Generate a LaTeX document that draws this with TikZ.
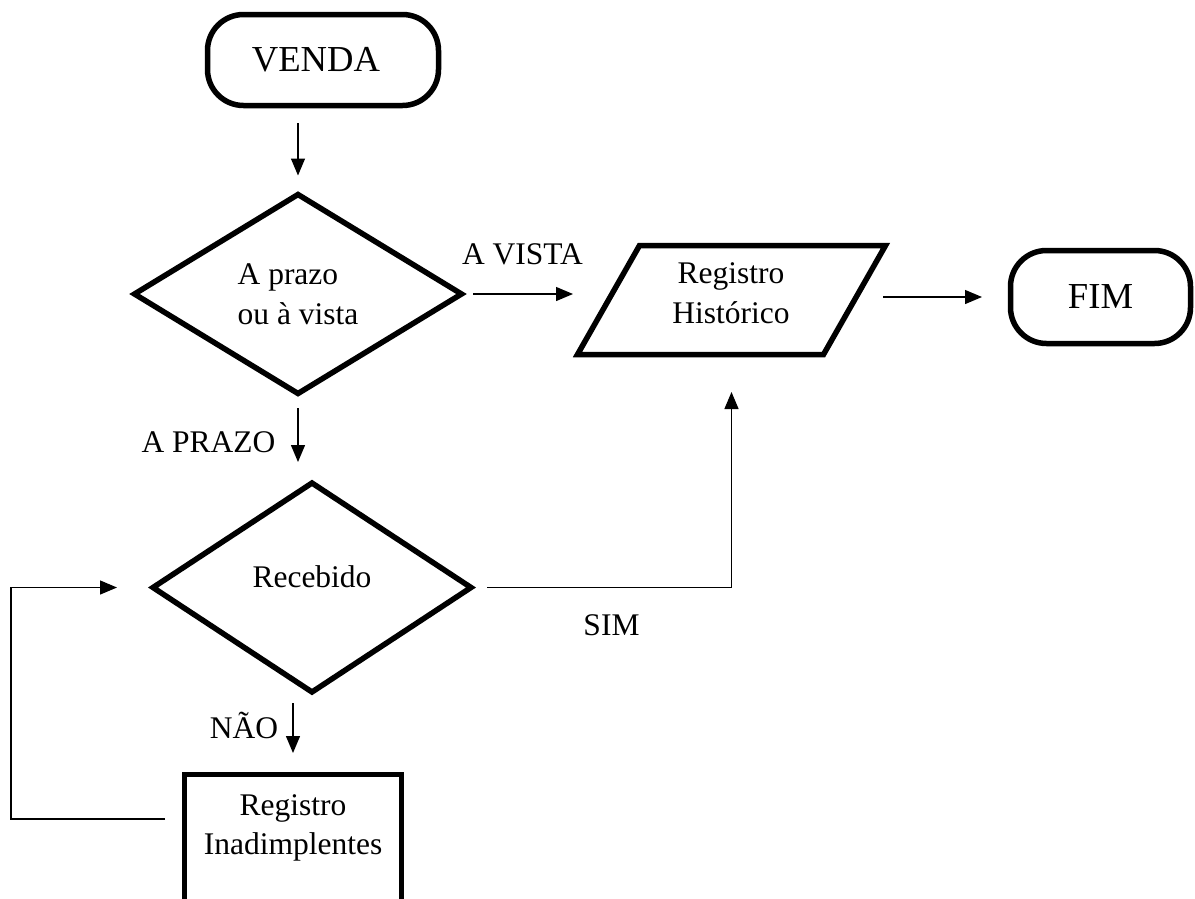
\documentclass[tikz,border=0pt]{standalone}
\usepackage{fontspec}
\setmainfont{Liberation Serif}
\usetikzlibrary{shapes.geometric,arrows.meta,calc}
\tikzset{
  outline/.style={draw=black, line width=5.5pt, line join=miter},
  terminal/.style={outline, rectangle, rounded corners=36pt, inner sep=0pt, outer sep=0pt,
    font=\fontsize{36.6}{44}\selectfont},
  decision/.style={outline, diamond, aspect=1, inner sep=0pt, outer sep=0pt, align=left},
  process/.style={outline, rectangle, inner xsep=10pt, inner ysep=20pt, outer sep=0pt, align=center},
  body/.style={rectangle, inner sep=0pt, outer sep=0pt},
  caption/.style={inner sep=0pt, anchor=base},
  flow/.style={line width=1.3pt, -{Triangle[length=17pt, width=14pt]}},
}
\begin{document}
\begin{tikzpicture}[x=1pt, y=-1pt, font=\fontsize{31.5}{39.5}\selectfont]
\useasboundingbox (0,0) rectangle (1195,898);
\fill[white] (0,0) rectangle (1195,898);
\clip (0,0) rectangle (1195,898);

% start and end terminals
\node[terminal, minimum width=231pt, minimum height=91pt] (venda) at (323,60) {VENDA\hspace*{14pt}};
\node[terminal, minimum width=180pt, minimum height=93pt] (fim) at (1100.5,297) {FIM};

% decisions
\node[decision, minimum width=327pt, minimum height=199pt] (prazo) at (298,294) {A prazo\\ou à vista};
\node[decision, minimum width=318pt, minimum height=209pt, text depth=22.5pt] (receb) at (312,587.5) {Recebido};

% data block (parallelogram around an invisible body)
\node[body, minimum width=246pt, minimum height=109pt] (hist) at (731.5,300) {};
\draw[outline] ([xshift=-31pt]hist.south west) -- ([xshift=31pt]hist.north west)
  -- ([xshift=31pt]hist.north east) -- ([xshift=-31pt]hist.south east) -- cycle;
\node[align=center, inner sep=0pt] (histtext) at (731,293) {Registro\\Histórico};

% process box, running off the lower edge
\node[process, anchor=north, minimum width=217pt, text depth=140pt] (inad) at (293,774.5) {Registro\\Inadimplentes};

% connectors
\draw[flow, shorten <=17.5pt, shorten >=19pt] (venda.south -| prazo.north) -- (prazo.north);
\draw[flow, shorten <=11.5pt, shorten >=35.5pt] (prazo.east) -- (prazo.east -| hist.west);
\draw[flow, shorten <=28.5pt, shorten >=28.5pt] (hist.east |- fim.west) -- (fim.west);
\draw[flow, shorten <=14.5pt, shorten >=21pt] (prazo.south) -- (prazo.south |- receb.north);
\draw[flow, shorten <=16pt, shorten >=37.5pt] (receb.east) -| (hist.south);
\draw[flow, shorten <=11pt, shorten >=21.5pt] (receb.south -| inad.north) -- (inad.north);
\coordinate (back) at (11,587.5);
\draw[flow, shorten <=19.5pt, shorten >=36pt] ([yshift=-44.5pt]inad.north west) -| (back) -- (receb.west);

% branch labels
\node[caption] (avista) at (522.5,264) {A VISTA};
\node[caption] (aprazo) at (208.5,452) {A PRAZO};
\node[caption] (sim) at (611.5,635) {SIM};
\node[caption] (nao) at (244,738) {NÃO};
\end{tikzpicture}
\end{document}
